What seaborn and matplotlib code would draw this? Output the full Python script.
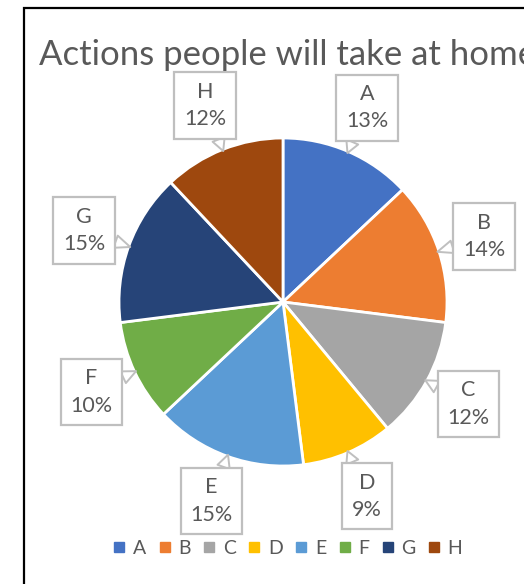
import numpy as np
import matplotlib
matplotlib.use("Agg")
import matplotlib.pyplot as plt
import seaborn as sns
from matplotlib.patches import Rectangle
from matplotlib.lines import Line2D

categories = ["A", "B", "C", "D", "E", "F", "G", "H"]
shares = [13, 14, 12, 9, 15, 10, 15, 12]
title = "Actions people will take at home"
palette = ["#4472C4", "#ED7D31", "#A5A5A5", "#FFC000",
           "#5B9BD5", "#70AD47", "#264478", "#9E480E"]

sns.set_theme(style="white")
plt.rcParams["font.family"] = ["Lato", "DejaVu Sans"]
colors = sns.color_palette(palette)
text_gray = "#595959"

W, H = 524, 584
fig = plt.figure(figsize=(W / 100, H / 100), dpi=100)
fig.patch.set_facecolor("white")

# outer chart frame (cropped on the right and bottom)
fig.patches.append(Rectangle((23.5 / W, -0.1), 1.2, (H - 7.5) / H + 0.1,
                             transform=fig.transFigure, fill=False,
                             edgecolor="black", linewidth=1.6))

# pie axes: centre (283, 302) px, radius 164 px
cx, cy, r_px, half = 283, H - 302, 164, 240
ax = fig.add_axes([(cx - half) / W, (cy - half) / H, 2 * half / W, 2 * half / H])

wedges, _ = ax.pie(shares, colors=colors, startangle=90, counterclock=False,
                   radius=1, wedgeprops=dict(edgecolor="white", linewidth=2))
lim = half / r_px
ax.set_xlim(-lim, lim)
ax.set_ylim(-lim, lim)
ax.axis("off")

for w, cat, val in zip(wedges, categories, shares):
    mid = np.deg2rad((w.theta1 + w.theta2) / 2)
    tip = (0.99 * np.cos(mid), 0.99 * np.sin(mid))
    pos = (1.29 * np.cos(mid), 1.29 * np.sin(mid))
    ax.annotate(f"{cat}\n{val}%", xy=tip, xytext=pos, ha="center", va="center",
                fontsize=15.5, color=text_gray, linespacing=1.45,
                bbox=dict(boxstyle="square,pad=0.45", fc="white", ec="#BFBFBF", lw=1.6),
                arrowprops=dict(arrowstyle="wedge,tail_width=0.6,shrink_factor=0.5",
                                fc="white", ec="#BFBFBF", lw=1.4,
                                shrinkA=0, shrinkB=0))

# title runs past the right edge, as in the source chart
fig.text(39 / W, 1 - 65 / H, title, ha="left", va="baseline",
         fontsize=25, color=text_gray)

handles = [Line2D([], [], marker="s", linestyle="none", markersize=7,
                  markerfacecolor=c, markeredgecolor=c) for c in colors]
fig.legend(handles, categories, loc="center", bbox_to_anchor=(287 / W, 1 - 548 / H),
           ncol=len(categories), frameon=False, fontsize=14, labelcolor=text_gray,
           handlelength=0.8, handletextpad=0.3, columnspacing=0.55, borderpad=0)

fig.savefig("out.png", dpi=100)
